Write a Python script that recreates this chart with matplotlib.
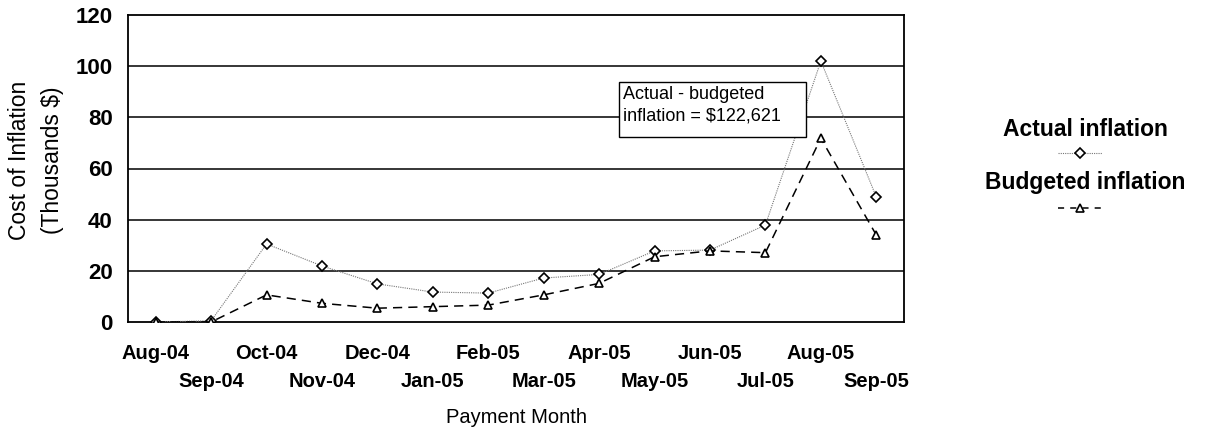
import numpy as np
import matplotlib
matplotlib.use("Agg")
import matplotlib.pyplot as plt
from matplotlib.lines import Line2D
from matplotlib.patches import Rectangle

plt.rcParams['font.family'] = ['Liberation Sans', 'DejaVu Sans']

# --- Data (thousands $) ---
months = ["Aug-04", "Sep-04", "Oct-04", "Nov-04", "Dec-04", "Jan-05", "Feb-05",
          "Mar-05", "Apr-05", "May-05", "Jun-05", "Jul-05", "Aug-05", "Sep-05"]
actual = [0, 0.5, 30.5, 21.9, 14.9, 11.7, 11.3, 17.2, 18.6, 27.8, 28.1, 37.9, 102.0, 48.9]
budgeted = [0, 0, 10.6, 7.3, 5.4, 6.0, 6.6, 10.6, 15.1, 25.5, 27.8, 27.1, 71.8, 34.0]
y_ticks = [0, 20, 40, 60, 80, 100, 120]

# --- Figure ---
fig = plt.figure(figsize=(12.05, 4.29), dpi=100)
ax = fig.add_axes([128 / 1205, 1 - 322 / 429, (904 - 128) / 1205, (322 - 15) / 429])

x = np.arange(len(months))

# gridlines
for yv in y_ticks[1:-1]:
    ax.axhline(yv, color="black", linewidth=1.1, zorder=1)

ax.plot(x, actual, color="#777777", linewidth=0.8, linestyle=(0, (1, 1)),
        marker="D", markersize=5, markerfacecolor="white", markeredgecolor="black",
        markeredgewidth=1.2, zorder=3)
ax.plot(x, budgeted, color="black", linewidth=1.1, linestyle=(0, (6, 4)),
        marker="^", markersize=6, markerfacecolor="white", markeredgecolor="black",
        markeredgewidth=1.2, zorder=3)

ax.set_xlim(-0.5, len(months) - 0.5)
ax.set_ylim(0, 120)
ax.set_yticks(y_ticks)
ax.set_yticklabels([str(v) for v in y_ticks], fontsize=16, fontweight="bold")
ax.tick_params(axis="y", length=0, pad=11)

# two-row month labels: even months on major ticks, odd months on minor ticks
ax.set_xticks(x[0::2])
ax.set_xticklabels(months[0::2], fontsize=14.5, fontweight="bold")
ax.set_xticks(x[1::2], minor=True)
ax.set_xticklabels(months[1::2], minor=True, fontsize=14.5, fontweight="bold")
ax.tick_params(axis="x", which="major", length=0, pad=16)
ax.tick_params(axis="x", which="minor", length=0, pad=36)

for s in ax.spines.values():
    s.set_linewidth(1.3)
    s.set_color("black")

ax.set_xlabel("Payment Month", fontsize=14.5, labelpad=12)
fig.text(20 / 1205, 1 - 160 / 429, "Cost of Inflation", rotation=90,
         ha="center", va="center", fontsize=16.5)
fig.text(53 / 1205, 1 - 160 / 429, "(Thousands $)", rotation=90,
         ha="center", va="center", fontsize=16.5)

# annotation box
ax.add_patch(Rectangle((0.6327, 0.6026), 0.2410, 0.1792, transform=ax.transAxes,
                       facecolor="white", edgecolor="black", linewidth=1.0, zorder=5))
ax.text(0.6376, 0.7405, "Actual - budgeted", transform=ax.transAxes, fontsize=13,
        ha="left", va="center", zorder=6)
ax.text(0.6376, 0.6720, "inflation = $122,621", transform=ax.transAxes, fontsize=13,
        ha="left", va="center", zorder=6)

# legend (text above line sample)
fig.text(1085 / 1205, 1 - 130 / 429, "Actual inflation", ha="center", va="center",
         fontsize=16.5, fontweight="bold")
fig.add_artist(Line2D([1058 / 1205, 1102 / 1205], [1 - 153 / 429] * 2,
                      transform=fig.transFigure, color="#777777", linewidth=0.8,
                      linestyle=(0, (1, 1))))
fig.add_artist(Line2D([1080 / 1205], [1 - 153 / 429], transform=fig.transFigure,
                      marker="D", markersize=5, markerfacecolor="white",
                      markeredgecolor="black", markeredgewidth=1.2, linestyle="none"))
fig.text(1085 / 1205, 1 - 183 / 429, "Budgeted inflation", ha="center", va="center",
         fontsize=16.5, fontweight="bold")
fig.add_artist(Line2D([1058 / 1205, 1102 / 1205], [1 - 208 / 429] * 2,
                      transform=fig.transFigure, color="black", linewidth=1.1,
                      linestyle=(0, (4, 4))))
fig.add_artist(Line2D([1080 / 1205], [1 - 208 / 429], transform=fig.transFigure,
                      marker="^", markersize=6, markerfacecolor="white",
                      markeredgecolor="black", markeredgewidth=1.2, linestyle="none"))

fig.savefig("out.png", dpi=100)
